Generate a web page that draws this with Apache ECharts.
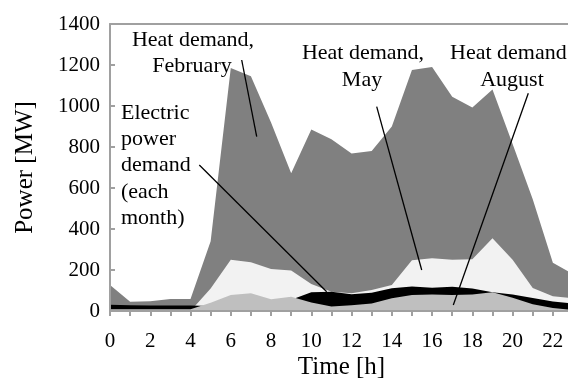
<!DOCTYPE html>
<html><head><meta charset="utf-8">
<script src="https://cdn.jsdelivr.net/npm/echarts@6/dist/echarts.min.js"></script>
<style>html,body{margin:0;padding:0;background:#fff}#c{width:568px;height:380px}</style>
</head><body><div id="c"></div>
<script>
const hours = ['0','1','2','3','4','5','6','7','8','9','10','11','12','13','14','15','16','17','18','19','20','21','22','23'];
const heatFeb = [127, 45, 47, 58, 58, 340, 1185, 1145, 920, 672, 885, 838, 768, 780, 900, 1176, 1190, 1045, 993, 1080, 815, 545, 235, 180];
const heatMay = [0, 0, 0, 0, 0, 110, 250, 238, 205, 197, 132, 94, 86, 103, 127, 248, 257, 250, 252, 355, 250, 112, 72, 62];
const elecDemand = [30, 28, 27, 27, 27, 25, 45, 50, 52, 55, 92, 94, 82, 89, 111, 119, 114, 118, 110, 91, 80, 64, 46, 36];
const heatAug = [8, 8, 8, 8, 8, 40, 78, 86, 57, 70, 42, 22, 28, 37, 62, 78, 80, 78, 80, 92, 65, 33, 15, 4];

const FONT = 'Liberation Serif';
const AX = '#a0a0a0';
const chart = echarts.init(document.getElementById('c'), null, {renderer: 'canvas'});

function area(name, data, color) {
  return {
    name, type: 'line', data, showSymbol: false, symbol: 'none',
    lineStyle: {width: 0}, areaStyle: {color: color, opacity: 1},
    itemStyle: {color: color}, animation: false
  };
}
function txt(text, x, y, align) {
  return {type: 'text', x, y, style: {text, fill: '#000', font: '22px "' + FONT + '"', textAlign: align || 'center', textVerticalAlign: 'middle'}, z: 100};
}
function ln(x1, y1, x2, y2) {
  return {type: 'line', shape: {x1, y1, x2, y2}, style: {stroke: '#000', lineWidth: 1.3}, z: 100};
}

chart.setOption({
  animation: false,
  grid: {left: 110, top: 24, bottom: 69, right: -5, containLabel: false, outerBoundsMode: 'none'},
  xAxis: [{
    type: 'category', data: hours, boundaryGap: false, z: 10,
    axisLine: {show: true, lineStyle: {color: AX, width: 2}},
    axisTick: {show: true, interval: 0, length: 5, inside: false, lineStyle: {color: AX, width: 2}},
    axisLabel: {interval: 1, color: '#000', fontFamily: FONT, fontSize: 21, margin: 20},
    splitLine: {show: false},
    name: 'Time [h]', nameLocation: 'middle', nameGap: 44, nameMoveOverlap: false,
    nameTextStyle: {color: '#000', fontFamily: FONT, fontSize: 25}
  }, {
    type: 'category', data: hours, boundaryGap: false, position: 'top', z: 10,
    axisLine: {show: true, lineStyle: {color: AX, width: 2}},
    axisTick: {show: false}, axisLabel: {show: false}, splitLine: {show: false}
  }],
  yAxis: {
    type: 'value', min: 0, max: 1400, interval: 200, z: 10,
    axisLine: {show: true, lineStyle: {color: AX, width: 2}},
    axisTick: {show: true, inside: true, length: 5, lineStyle: {color: AX, width: 2}},
    axisLabel: {color: '#000', fontFamily: FONT, fontSize: 21, margin: 10, formatter: v => String(v)},
    splitLine: {show: false},
    name: 'Power [MW]', nameLocation: 'middle', nameGap: 72, nameRotate: 90, nameMoveOverlap: false,
    nameTextStyle: {color: '#000', fontFamily: FONT, fontSize: 25}
  },
  series: [
    area('Heat demand, February', heatFeb, '#808080'),
    area('Heat demand, May', heatMay, '#f2f2f2'),
    area('Electric power demand', elecDemand, '#000000'),
    area('Heat demand, August', heatAug, '#bfbfbf')
  ],
  graphic: [
    txt('Heat demand,', 193, 40), txt('February', 192, 66),
    ln(241.7, 60, 256.7, 136.7),
    txt('Electric', 121, 113, 'left'), txt('power', 121, 139, 'left'), txt('demand', 121, 165, 'left'),
    txt('(each', 121, 192, 'left'), txt('month)', 121, 218, 'left'),
    ln(199.3, 165, 326.7, 291.7),
    txt('Heat demand,', 363, 53), txt('May', 362, 80),
    ln(376.7, 106.7, 421.7, 270),
    txt('Heat demand', 450, 53, 'left'), txt('August', 512, 80),
    ln(528.3, 93.3, 453.3, 305)
  ]
});
</script></body></html>
